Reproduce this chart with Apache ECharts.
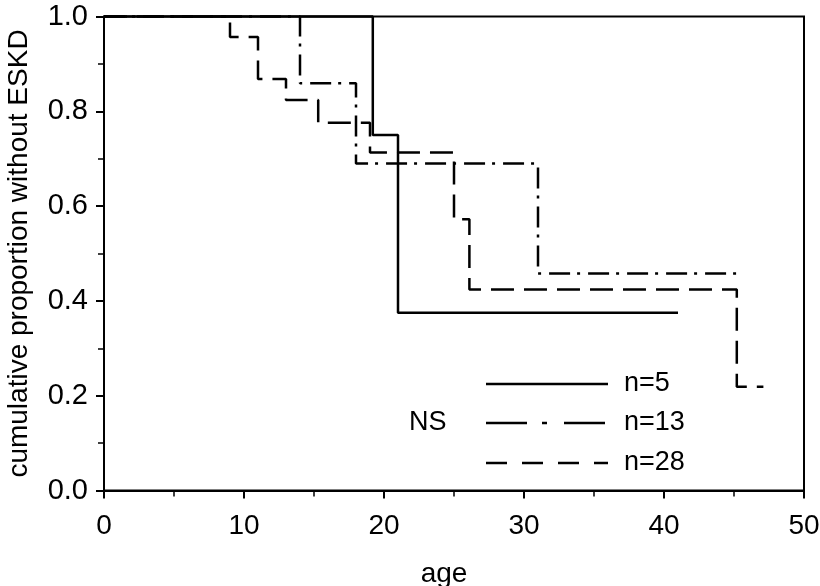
<!DOCTYPE html>
<html>
<head>
<meta charset="utf-8">
<script src="https://cdn.jsdelivr.net/npm/echarts@6/dist/echarts.min.js"></script>
<style>
  html, body { margin: 0; padding: 0; background: #fff; }
  #chart { width: 820px; height: 586px; }
</style>
</head>
<body>
<div id="chart"></div>
<script>
// Kaplan-Meier steps: [age, cumulative proportion]
const groupNames = ['n=5', 'n=13', 'n=28']
const curveN5 = [[0, 1], [19.2, 0.75], [21, 0.375], [41, 0.375]]
const curveN13 = [[0, 1], [14, 0.859], [18, 0.69], [31, 0.458], [45.2, 0.458]]
const curveN28 = [[0, 1], [9, 0.957], [11, 0.868], [13, 0.824], [15.3, 0.776], [19, 0.713],
                  [25, 0.572], [26.1, 0.424], [45.2, 0.219], [47.1, 0.219]]
const xTicks = [0, 10, 20, 30, 40, 50]
const yTicks = ['0.0', '0.2', '0.4', '0.6', '0.8', '1.0']
const noteText = 'NS'

const font = 'Liberation Sans, Arial, sans-serif'
const fs = 27

const chart = echarts.init(document.getElementById('chart'))

function line(name, data, dash) {
    return {
        name: name,
        type: 'line',
        step: 'end',
        data: data,
        showSymbol: false,
        clip: false,
        animation: false,
        lineStyle: { color: '#000', width: 2.5, type: dash },
        z: 3
    }
}

// legend drawn by hand, its dash patterns differ from the plotted ones
const legendY = [384, 423, 463]
const legendDash = ['solid', [41, 15, 5, 17], [21, 15]]
const legendGraphics = []
groupNames.forEach((n, i) => {
    legendGraphics.push({
        type: 'line',
        shape: { x1: 486, y1: legendY[i], x2: 608, y2: legendY[i] },
        style: { stroke: '#000', lineWidth: 2.5, lineDash: legendDash[i] === 'solid' ? null : legendDash[i] }
    })
    legendGraphics.push({
        type: 'text',
        x: 624, y: legendY[i],
        style: { text: n, font: fs + 'px ' + font, fill: '#000', verticalAlign: 'middle' }
    })
})
legendGraphics.push({
    type: 'text',
    x: 409, y: legendY[1],
    style: { text: noteText, font: fs + 'px ' + font, fill: '#000', verticalAlign: 'middle' }
})

const option = {
    backgroundColor: '#fff',
    animation: false,
    grid: {
        left: 104, right: 16, top: 16.5, bottom: 95.5,
        outerBoundsMode: 'none',
        containLabel: false,
        show: true, borderColor: '#000', borderWidth: 2
    },
    xAxis: {
        type: 'value',
        min: xTicks[0],
        max: xTicks[xTicks.length - 1],
        interval: 10,
        name: 'age',
        nameLocation: 'middle',
        nameGap: 70,
        nameTextStyle: { fontSize: 28, fontFamily: font, color: '#000', padding: [0, 20, 0, 0] },
        axisLine: { show: true, lineStyle: { color: '#000', width: 2 } },
        axisTick: { show: true, inside: false, length: 8, lineStyle: { color: '#000', width: 2 } },
        minorTick: { show: true, splitNumber: 2, length: 6, lineStyle: { color: '#000', width: 1.5 } },
        splitLine: { show: false },
        axisLabel: { fontSize: 28, fontFamily: font, color: '#000', margin: 22 }
    },
    yAxis: {
        type: 'value',
        min: 0,
        max: 1,
        interval: 0.2,
        name: 'cumulative proportion without ESKD',
        nameLocation: 'middle',
        nameGap: 71,
        nameTextStyle: { fontSize: 28, fontFamily: font, color: '#000' },
        axisLine: { show: true, lineStyle: { color: '#000', width: 2 } },
        axisTick: { show: true, inside: false, length: 8, lineStyle: { color: '#000', width: 2 } },
        minorTick: { show: true, splitNumber: 2, length: 6, lineStyle: { color: '#000', width: 1.5 } },
        splitLine: { show: false },
        axisLabel: {
            fontSize: 29, fontFamily: font, color: '#000', margin: 16,
            formatter: v => yTicks[Math.round(v * 5)]
        }
    },
    series: [
        line(groupNames[0], curveN5, 'solid'),
        line(groupNames[1], curveN13, [21, 7, 3, 8]),
        line(groupNames[2], curveN28, [23, 10])
    ],
    graphic: legendGraphics
}
chart.setOption(option)
</script>
</body>
</html>
